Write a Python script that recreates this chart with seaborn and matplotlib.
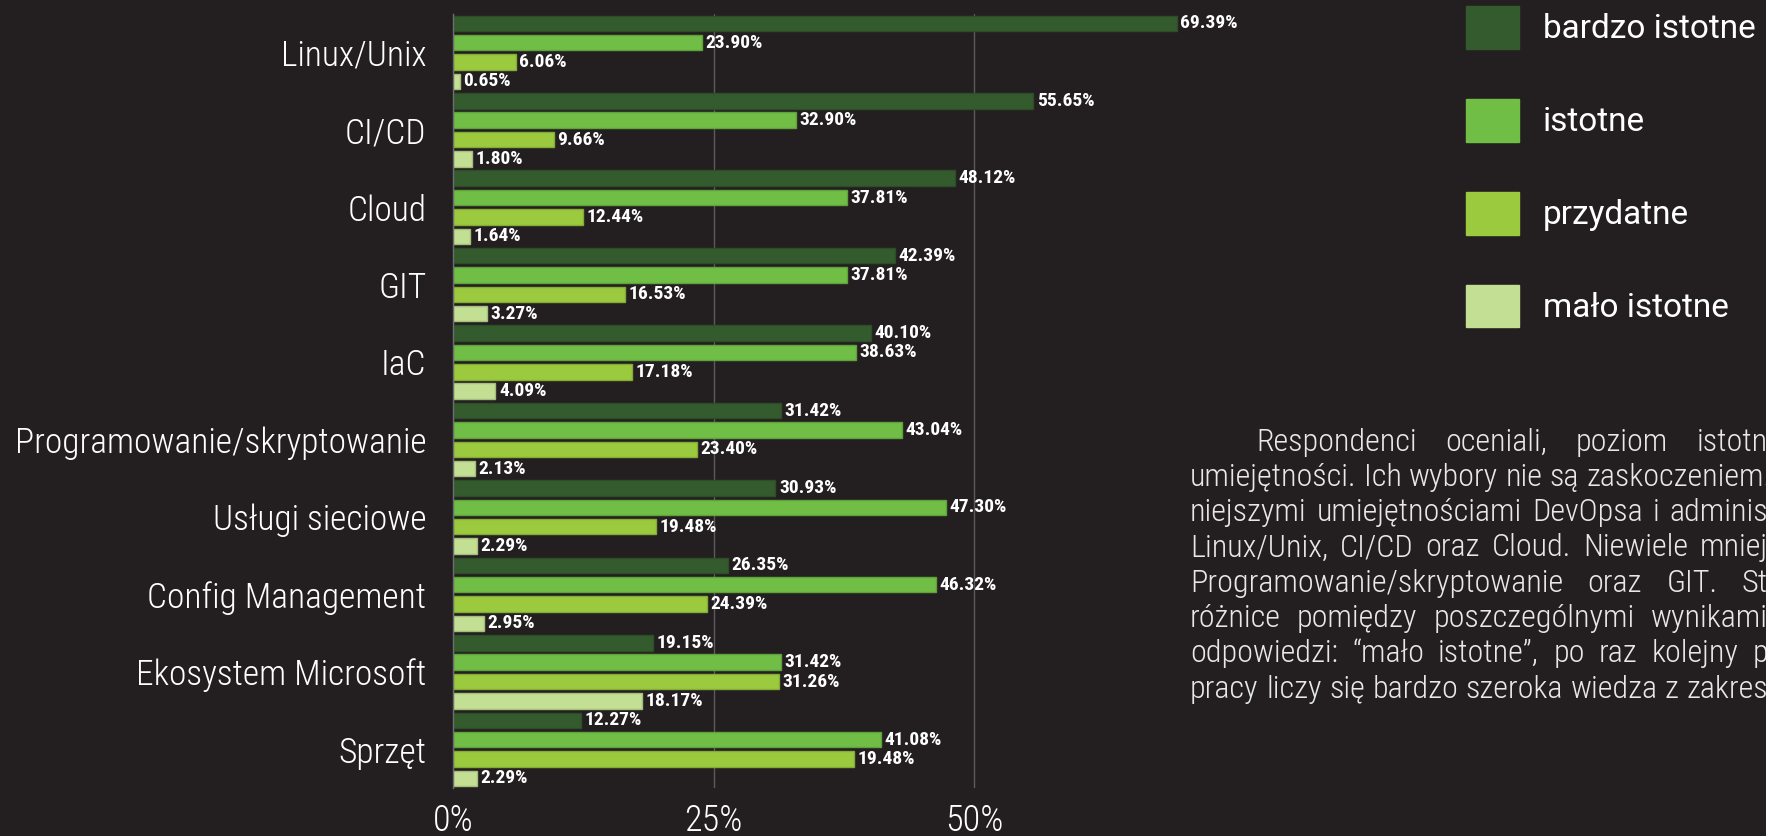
import matplotlib
matplotlib.use("Agg")
import matplotlib.pyplot as plt
import numpy as np
import pandas as pd
import seaborn as sns
from matplotlib import font_manager
from matplotlib.colors import to_rgb

# ---------------- data ----------------
categories = ["Linux/Unix", "CI/CD", "Cloud", "GIT", "IaC",
              "Programowanie/skryptowanie", "Usługi sieciowe",
              "Config Management", "Ekosystem Microsoft", "Sprzęt"]
levels = ["bardzo istotne", "istotne", "przydatne", "mało istotne"]

bardzo_istotne = [69.39, 55.65, 48.12, 42.39, 40.10, 31.42, 30.93, 26.35, 19.15, 12.27]
istotne = [23.90, 32.90, 37.81, 37.81, 38.63, 43.04, 47.30, 46.32, 31.42, 41.08]
# the source draws the "Sprzęt / przydatne" bar at ~38.45 while labelling it 19.48%
przydatne = [6.06, 9.66, 12.44, 16.53, 17.18, 23.40, 19.48, 24.39, 31.26, 38.45]
malo_istotne = [0.65, 1.80, 1.64, 3.27, 4.09, 2.13, 2.29, 2.95, 18.17, 2.29]

label_overrides = {("przydatne", "Sprzęt"): "19.48%"}

xticks = [0, 25, 50]
xtick_labels = ["0%", "25%", "50%"]

paragraph = [
    "Respondenci oceniali, poziom istotn",
    "umiejętności. Ich wybory nie są zaskoczeniem.",
    "niejszymi umiejętnościami DevOpsa i adminis",
    "Linux/Unix, CI/CD oraz Cloud. Niewiele mniej",
    "Programowanie/skryptowanie oraz GIT. St",
    "różnice pomiędzy poszczególnymi wynikami",
    "odpowiedzi: “mało istotne”, po raz kolejny p",
    "pracy liczy się bardzo szeroka wiedza z zakres",
]

colors = ["#345b2e", "#70be45", "#9bca3e", "#c2df94"]
bg = "#231f20"

series = {"bardzo istotne": bardzo_istotne, "istotne": istotne,
          "przydatne": przydatne, "mało istotne": malo_istotne}
df = pd.DataFrame([{"cat": c, "level": lv, "val": v}
                   for lv in levels for c, v in zip(categories, series[lv])])

# ---------------- fonts ----------------
avail = {f.name for f in font_manager.fontManager.ttflist}
def pick(*names):
    for n in names:
        if n in avail:
            return n
    return "DejaVu Sans"
cond = pick("Roboto Condensed", "Liberation Sans Narrow", "Roboto")
base = pick("Roboto", "Lato", "DejaVu Sans")

# ---------------- figure ----------------
W, H, DPI = 1766, 836, 100
sns.set_theme(style="dark")
plt.rcParams["font.family"] = [base, "DejaVu Sans"]
fig = plt.figure(figsize=(W / DPI, H / DPI), dpi=DPI, facecolor=bg)
ax = fig.add_axes([452.8 / W, 1 - 788 / H, (1183 - 452.8) / W, (788 - 13.7) / H])
ax.set_facecolor(bg)

sns.barplot(data=df, y="cat", x="val", hue="level", order=categories,
            hue_order=levels, palette=colors, orient="h", width=1.0, gap=0.2,
            saturation=1, errorbar=None, ax=ax, linewidth=1)

for cont, col in zip(ax.containers, colors):
    dark = tuple(c * 0.85 for c in to_rgb(col))
    for p in cont:
        p.set_edgecolor(dark)

for lv, cont in zip(levels, ax.containers):
    labs = [label_overrides.get((lv, c), f"{v:.2f}%") for c, v in zip(categories, series[lv])]
    ax.bar_label(cont, labels=labs, padding=2.5, color="white", fontsize=14,
                 fontweight="bold", family=[cond, "DejaVu Sans"])

ax.set_xlim(0, 70)
ax.set_xticks(xticks)
ax.set_xticklabels(xtick_labels)
ax.xaxis.grid(True, color="#5b5b5d", lw=1)
ax.yaxis.grid(False)
ax.set_axisbelow(True)
for s in ["top", "right", "bottom"]:
    ax.spines[s].set_visible(False)
ax.spines["left"].set_color("#6d6e71")
ax.spines["left"].set_linewidth(1)
ax.set_xlabel("")
ax.set_ylabel("")
ax.tick_params(axis="x", length=0, pad=11, labelsize=26, labelcolor="white")
ax.tick_params(axis="y", length=0, pad=19, labelsize=25.5, labelcolor="white")
for t in ax.get_xticklabels() + ax.get_yticklabels():
    t.set_fontweight("light")
    t.set_family([cond, "DejaVu Sans"])

# legend
leg = ax.get_legend()
handles = leg.legend_handles
leg.remove()
for h, col in zip(handles, colors):
    h.set_edgecolor(col)
    h.set_facecolor(col)
fs_leg = 24
fig.legend(handles, levels, loc="upper left",
           bbox_to_anchor=(1466 / W, 1 - 6 / H), bbox_transform=fig.transFigure,
           frameon=False, borderpad=0, borderaxespad=0,
           handlelength=1.6, handleheight=1.6, labelspacing=1.5,
           handletextpad=0.7, labelcolor="white",
           prop={"family": [base, "DejaVu Sans"], "size": fs_leg, "weight": "normal"})

# paragraph (justified, running off the right edge)
fig.canvas.draw()
renderer = fig.canvas.get_renderer()

def measure(s, size):
    t = fig.text(0, 0, s, fontsize=size, fontweight="light", family=[cond, "DejaVu Sans"])
    w = t.get_window_extent(renderer).width
    t.remove()
    return w

left, right = 1190, 1768
y0, dy = 442, 35.3
ref_size = 18
fsz = ref_size * 582 / measure(paragraph[1], ref_size)
space_nat = measure("a a", fsz) - measure("aa", fsz)
for i, line in enumerate(paragraph):
    words = line.split(" ")
    x_start = 1256 if i == 0 else left
    y = 1 - (y0 + i * dy) / H
    texts = [fig.text(0, y, w, color="#e8e8e8", fontsize=fsz, fontweight="light",
                      family=[cond, "DejaVu Sans"], va="center", ha="left")
             for w in words]
    widths = [t.get_window_extent(renderer).width for t in texts]
    gap = (right - x_start - sum(widths)) / max(len(words) - 1, 1)
    gap = max(gap, space_nat)
    x = x_start
    for t, w in zip(texts, widths):
        t.set_x(x / W)
        x += w + gap

fig.savefig("out.png", dpi=DPI, facecolor=bg)
